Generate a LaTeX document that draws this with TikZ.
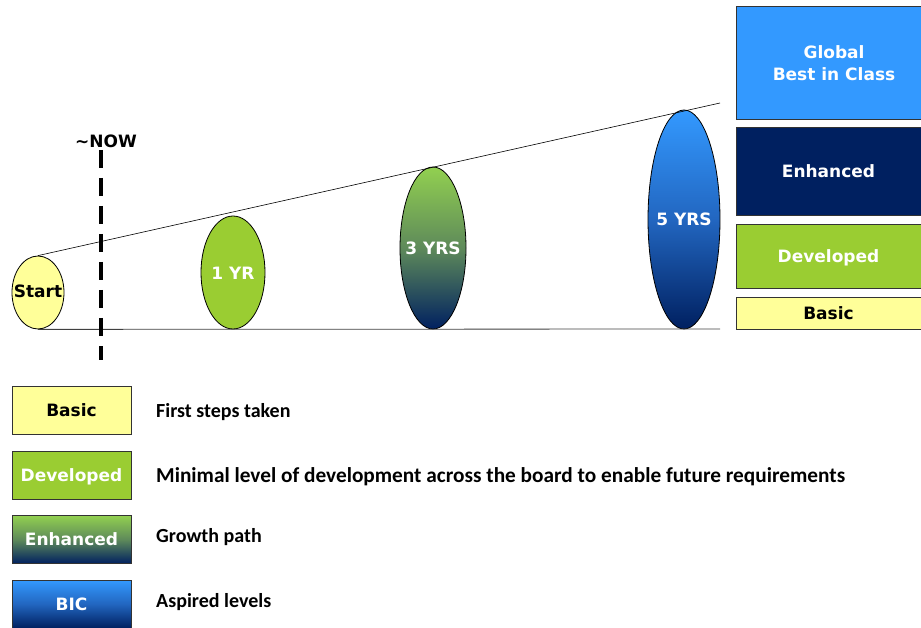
\documentclass[tikz,border=0pt]{standalone}
\usepackage{fontspec}
\setmainfont{DejaVu Sans}
\newfontfamily\calib{Carlito}
\usetikzlibrary{shapes.geometric}
\definecolor{cyellow}{HTML}{FFFF99}
\definecolor{cgreen}{HTML}{9ACD32}
\definecolor{clgreen}{HTML}{92D050}
\definecolor{cnavy}{HTML}{002060}
\definecolor{cblue}{HTML}{3399FF}
\definecolor{cmid}{HTML}{5E8A5A}
\definecolor{cbmid}{HTML}{2266C0}
\tikzset{
  lbl/.style={font=\bfseries\fontsize{17}{22}\selectfont, text height=12.4pt, text depth=0pt},
  oval/.style={ellipse, draw=black, line width=0.8pt, inner sep=0pt},
  ovtext/.style={lbl, text=white, inner sep=0pt},
  rbox/.style={draw=black!80, line width=0.8pt, minimum width=185pt, inner sep=0pt, lbl, text=white, align=center},
  legbox/.style={draw=black!80, line width=0.8pt, minimum width=119pt, minimum height=48pt, inner sep=0pt, lbl, text=white},
  legtext/.style={font=\calib\bfseries\fontsize{20}{24}\selectfont, anchor=west, text=black, inner sep=0pt, text height=12.8pt, text depth=0pt},
  gshade/.style={top color=clgreen, bottom color=cnavy, middle color=cmid},
  bshade/.style={top color=cblue, bottom color=cnavy, middle color=cbmid},
}
\begin{document}
\begin{tikzpicture}[x=1pt,y=-1pt]
\useasboundingbox (0,0) rectangle (921,628);
% ellipses
\node[oval, fill=cyellow, minimum width=52pt, minimum height=73pt] (start) at (38,292.5) {};
\node[oval, fill=cgreen, minimum width=64pt, minimum height=113pt] (yr1) at (233,272.5) {};
\node[oval, gshade, minimum width=66pt, minimum height=162pt] (yr3) at (433,248) {};
\node[oval, bshade, minimum width=72pt, minimum height=219pt] (yr5) at (684,219.5) {};
\node[ovtext, text=black] (startt) at ([yshift=1pt]start.center) {Start};
\node[ovtext] (yr1t) at ([yshift=-1pt]yr1.center) {1 YR};
\node[ovtext] (yr3t) at ([yshift=0pt]yr3.center) {3 YRS};
\node[ovtext] (yr5t) at ([yshift=0pt]yr5.center) {5 YRS};
\coordinate (bend) at (720,329);
\coordinate (tend) at (720,103);
\draw[line width=0.8pt, black!75] (start.south) -- (bend);
\draw[line width=0.6pt] (start.north) -- (tend);
% NOW
\node[lbl] (now) at (106,141) {\symbol{126}NOW};
\coordinate (nowt) at (101,150);
\coordinate (nowb) at (101,360);
\draw[line width=4pt, dash pattern=on 18pt off 10pt] (nowt) -- (nowb);
% right boxes
\node[rbox, fill=cblue, minimum height=113pt] (gbic) at (828.5,62.5) {};
\node[ovtext] (gbict1) at (834,52.5) {Global};
\node[ovtext] (gbict2) at (834,74) {Best in Class};
\node[rbox, fill=cnavy, minimum height=88pt] (enh) at (828.5,171) {Enhanced};
\node[rbox, fill=cgreen, minimum height=64pt] (dev) at (828.5,256.5) {Developed};
\node[rbox, fill=cyellow, text=black, minimum height=32pt] (bas) at (828.5,313) {Basic};
% legend
\node[legbox, fill=cyellow, text=black] (lb1) at (71.5,410.5) {Basic};
\node[legbox, fill=cgreen] (lb2) at (71.5,475) {Developed};
\node[legbox, gshade] (lb3) at (71.5,539.5) {Enhanced};
\node[legbox, bshade] (lb4) at (71.5,604) {BIC};
\node[legtext] (lt1) at (156,411) {First steps taken};
\node[legtext, font=\calib\bfseries\fontsize{21.3}{24}\selectfont] (lt2) at (156,476) {Minimal level of development across the board to enable future requirements};
\node[legtext] (lt3) at (156,536) {Growth path};
\node[legtext] (lt4) at (156,601) {Aspired levels};
\end{tikzpicture}
\end{document}
